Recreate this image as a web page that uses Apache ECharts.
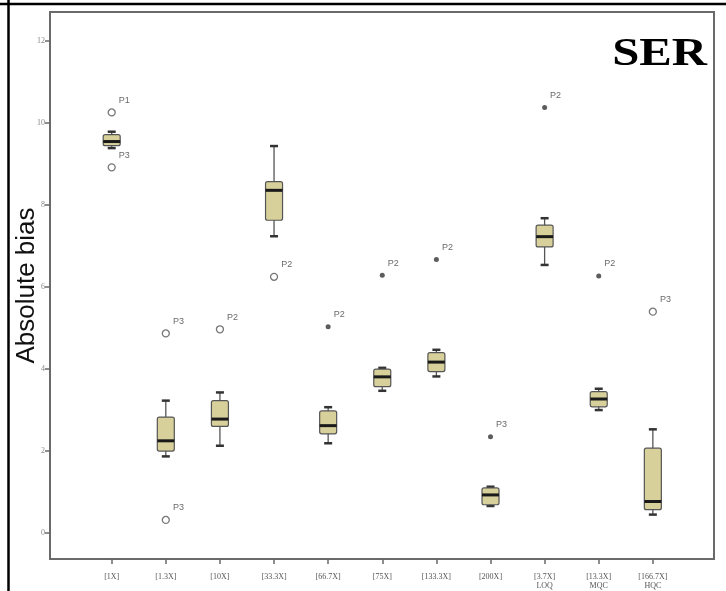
<!DOCTYPE html>
<html>
<head>
<meta charset="utf-8">
<script src="https://cdn.jsdelivr.net/npm/echarts@6/dist/echarts.min.js"></script>
<style>
  html, body { margin: 0; padding: 0; background: #fff; }
  #chart { width: 726px; height: 591px; }
</style>
</head>
<body>
<div id="chart"></div>
<script>
// Spiking levels along the x axis
const categories = ['[1X]', '[1.3X]', '[10X]', '[33.3X]', '[66.7X]', '[75X]', '[133.3X]', '[200X]', '[3.7X]\nLOQ', '[13.3X]\nMQC', '[166.7X]\nHQC'];

// Box statistics per level (absolute bias)
const whiskerLow  = [9.39, 1.87, 2.13, 7.24, 2.19, 3.47, 3.82, 0.66, 6.54, 3.00, 0.45];
const quartile1   = [9.45, 2.00, 2.60, 7.63, 2.42, 3.57, 3.94, 0.69, 6.98, 3.08, 0.57];
const medians     = [9.55, 2.25, 2.78, 8.36, 2.62, 3.81, 4.17, 0.93, 7.23, 3.27, 0.77];
const quartile3   = [9.72, 2.83, 3.23, 8.57, 2.98, 4.00, 4.40, 1.10, 7.51, 3.45, 2.07];
const whiskerHigh = [9.79, 3.23, 3.43, 9.44, 3.07, 4.03, 4.47, 1.13, 7.68, 3.52, 2.53];

// Outlying cases: level index, value, case id, kind ('o' = outlier, '*' = extreme)
const outlierLevel = [0, 0, 1, 1, 2, 3, 4, 5, 6, 7, 8, 9, 10];
const outlierValue = [10.26, 8.92, 4.87, 0.32, 4.97, 6.25, 5.03, 6.29, 6.67, 2.35, 10.38, 6.27, 5.40];
const outlierCase  = ['P1', 'P3', 'P3', 'P3', 'P2', 'P2', 'P2', 'P2', 'P2', 'P3', 'P2', 'P2', 'P3'];
const outlierKind  = ['o', 'o', 'o', 'o', 'o', 'o', '*', '*', '*', '*', '*', '*', 'o'];

const yTicks = [0, 2, 4, 6, 8, 10, 12];
const xTicks = categories.map((c, i) => i);

const boxData = categories.map((c, i) => [i, whiskerLow[i], quartile1[i], medians[i], quartile3[i], whiskerHigh[i]]);

const circleData = [];
const starData = [];
outlierValue.forEach((v, k) => {
  const item = [outlierLevel[k], v, outlierCase[k]];
  (outlierKind[k] === 'o' ? circleData : starData).push(item);
});

const chart = echarts.init(document.getElementById('chart'), null, { renderer: 'canvas' });

const caseLabel = {
  show: true,
  formatter: p => p.data[2],
  position: 'right',
  offset: [-2, -12],
  fontSize: 9,
  fontFamily: 'Liberation Sans',
  color: '#444'
};

chart.setOption({
  animation: false,
  backgroundColor: '#fff',
  grid: {
    left: 50, right: 12, top: 12, bottom: 32,
    outerBoundsMode: 'none',
    containLabel: false,
    show: true, borderColor: '#6a6a6a', borderWidth: 2, backgroundColor: 'transparent'
  },
  xAxis: {
    type: 'value',
    min: -1.14, max: 11.13,
    splitLine: { show: false },
    axisLine: { show: true, onZero: false, lineStyle: { color: '#6a6a6a', width: 2 } },
    axisTick: { show: true, customValues: xTicks, length: 5, lineStyle: { color: '#6a6a6a', width: 1.5 } },
    axisLabel: {
      customValues: xTicks,
      formatter: v => categories[v],
      fontSize: 8, lineHeight: 9, color: '#555', margin: 13,
      fontFamily: 'Liberation Serif'
    }
  },
  yAxis: {
    type: 'value',
    min: -0.633, max: 12.71,
    splitLine: { show: false },
    axisLine: { show: true, onZero: false, lineStyle: { color: '#6a6a6a', width: 2 } },
    axisTick: { show: true, customValues: yTicks, length: 5, lineStyle: { color: '#6a6a6a', width: 1.5 } },
    axisLabel: { customValues: yTicks, fontSize: 8, color: '#888', margin: 5, fontFamily: 'Liberation Serif' },
    name: 'Absolute bias',
    nameLocation: 'middle',
    nameGap: 10,
    nameMoveOverlap: false,
    nameTextStyle: { fontSize: 26, color: '#111', fontFamily: 'Liberation Sans' }
  },
  series: [
    {
      type: 'custom',
      data: boxData,
      z: 3,
      renderItem: (params, api) => {
        const i = api.value(0);
        const lo = api.coord([i, api.value(1)]);
        const b1 = api.coord([i, api.value(2)]);
        const md = api.coord([i, api.value(3)]);
        const b3 = api.coord([i, api.value(4)]);
        const hi = api.coord([i, api.value(5)]);
        const x = lo[0];
        const half = 8.5;
        const cap = 4;
        return {
          type: 'group',
          children: [
            { type: 'line', shape: { x1: x, y1: hi[1], x2: x, y2: lo[1] }, style: { stroke: '#555', lineWidth: 1.3 } },
            { type: 'line', shape: { x1: x - cap, y1: hi[1], x2: x + cap, y2: hi[1] }, style: { stroke: '#333', lineWidth: 2.5 } },
            { type: 'line', shape: { x1: x - cap, y1: lo[1], x2: x + cap, y2: lo[1] }, style: { stroke: '#333', lineWidth: 2.5 } },
            { type: 'rect', shape: { x: x - half, y: b3[1], width: half * 2, height: b1[1] - b3[1], r: 2 }, style: { fill: '#d8d09a', stroke: '#555', lineWidth: 1.2 } },
            { type: 'line', shape: { x1: x - half, y1: md[1], x2: x + half, y2: md[1] }, style: { stroke: '#1a1a1a', lineWidth: 3 } }
          ]
        };
      }
    },
    {
      type: 'scatter',
      data: circleData,
      symbol: 'circle',
      symbolSize: 7,
      itemStyle: { color: '#fff', borderColor: '#555', borderWidth: 1.3 },
      label: caseLabel,
      z: 4
    },
    {
      type: 'scatter',
      data: starData,
      symbol: 'circle',
      symbolSize: 5,
      itemStyle: { color: '#333' },
      label: caseLabel,
      z: 4
    }
  ],
  graphic: [
    { type: 'line', shape: { x1: 0, y1: 4, x2: 726, y2: 4 }, style: { stroke: '#000', lineWidth: 2.5 } },
    { type: 'line', shape: { x1: 8.5, y1: 0, x2: 8.5, y2: 591 }, style: { stroke: '#000', lineWidth: 2.5 } },
    {
      type: 'text', x: 707, y: 55, scaleX: 1.25,
      style: { text: 'SER', font: 'bold 39px "Liberation Serif"', fill: '#000', align: 'right', verticalAlign: 'middle' }
    }
  ]
});
</script>
</body>
</html>
